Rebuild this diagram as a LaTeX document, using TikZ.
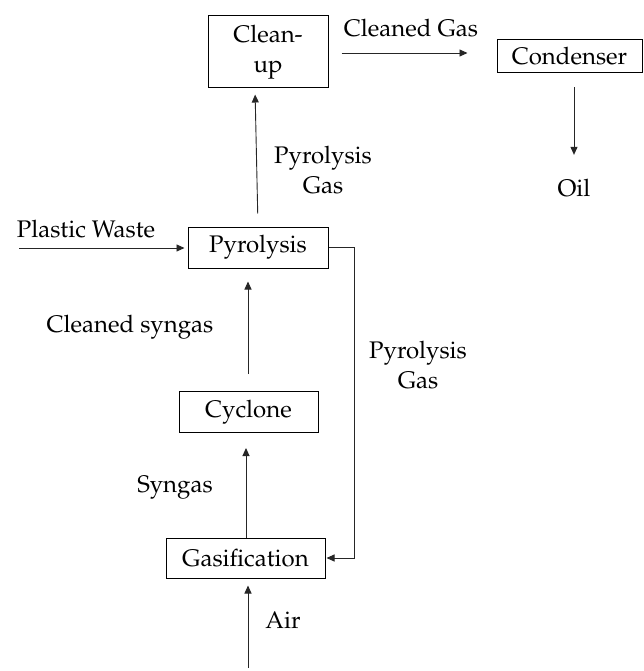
\documentclass[tikz,border=0pt]{standalone}
\usepackage[T1]{fontenc}
\renewcommand{\rmdefault}{ppl}
\usetikzlibrary{arrows.meta}
\begin{document}
\begin{tikzpicture}[x=1pt,y=-1pt,
  every node/.style={font=\fontsize{24}{30}\selectfont, inner sep=0pt},
  box/.style={draw=black, line width=1pt, align=center},
  lbl/.style={align=center},
  arr/.style={draw=black!85, line width=0.9pt, -{Triangle[length=8pt,width=7pt]}}]
\useasboundingbox (0,0) rectangle (643,671);
% boxes
\node[box, minimum width=120pt, minimum height=72pt] (clean) at (268,52) {Clean-\\up};
\node[box, minimum width=145pt, minimum height=33pt] (cond) at (569.5,56.5) {Condenser};
\node[box, minimum width=140pt, minimum height=41pt] (pyr) at (258,247.5) {Pyrolysis};
\node[box, minimum width=139pt, minimum height=41pt] (cyc) at (248.5,412) {Cyclone};
\node[box, minimum width=159pt, minimum height=40pt] (gas) at (245.5,558) {Gasification};
% labels
\node[lbl] (oil) at (574,188) {Oil};
\node[lbl] (lcg) at (411,28) {Cleaned Gas};
\node[lbl] (lpg1) at (323,170) {Pyrolysis\\Gas};
\node[lbl] (lpw) at (86,229) {Plastic Waste};
\node[lbl] (lpg2) at (418,365) {Pyrolysis\\Gas};
\node[lbl] (lcs) at (130,327) {Cleaned syngas};
\node[lbl] (lsy) at (175,488) {Syngas};
\node[lbl] (lair) at (283,620) {Air};
% free ends
\coordinate (pwin) at (19,248);
\coordinate (airin) at (248,668);
% connectors
\draw[arr, shorten <=13pt, shorten >=6pt] ([xshift=0pt]pyr.north) -- ([xshift=-13pt]clean.south);
\draw[arr, shorten <=13pt, shorten >=29pt] ([yshift=-1pt]clean.east) -- ([yshift=-1pt]clean.east -| cond.west);
\draw[arr, shorten <=14pt, shorten >=24pt] ([xshift=4.5pt]cond.south) -- ([xshift=4.5pt]cond.south |- oil.north);
\draw[arr, shorten >=3pt] (pwin) -- (pwin -| pyr.west);
\draw[arr, shorten >=1pt] (pyr.east) -- ([xshift=26pt]pyr.east) |- (gas.east);
\draw[arr, shorten <=17pt, shorten >=13pt] ([xshift=-0.5pt]cyc.north) -- ([xshift=-0.5pt]cyc.north |- pyr.south);
\draw[arr, shorten >=15pt] ([xshift=0.5pt]gas.north) -- ([xshift=0.5pt]gas.north |- cyc.south);
\draw[arr, shorten >=7pt] (airin) -- (airin |- gas.south);
\end{tikzpicture}
\end{document}
